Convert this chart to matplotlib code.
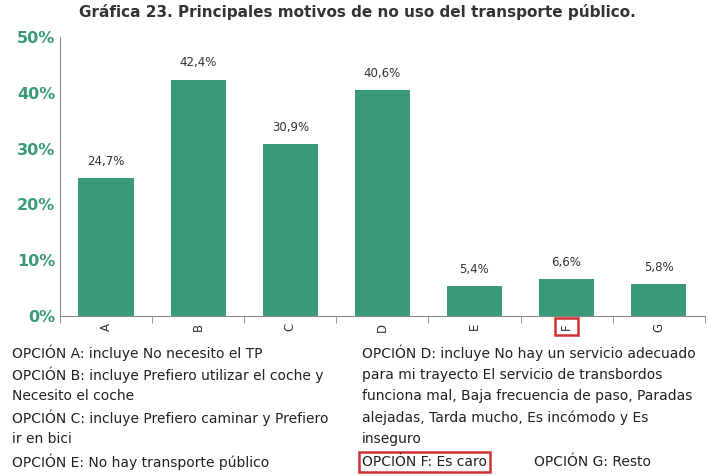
import matplotlib
matplotlib.use("Agg")
import matplotlib.pyplot as plt
import numpy as np

categories = ["A", "B", "C", "D", "E", "F", "G"]
values = [24.7, 42.4, 30.9, 40.6, 5.4, 6.6, 5.8]
value_labels = ["24,7%", "42,4%", "30,9%", "40,6%", "5,4%", "6,6%", "5,8%"]
yticks = [0, 10, 20, 30, 40, 50]

green = "#3a9a77"
fig = plt.figure(figsize=(7.14, 4.76), dpi=100)
ax = fig.add_axes([0.084, 0.336, 0.903, 0.586])
x = np.arange(len(categories))
ax.bar(x, values, width=0.6, color=green)
for xi, v, lab in zip(x, values, value_labels):
    ax.text(xi, v + 1.8, lab, ha="center", va="bottom", fontsize=8.5, color="#333333")
ax.set_xlim(-0.5, len(categories) - 0.5)
ax.set_ylim(0, 50)
ax.set_yticks(yticks)
ax.set_yticklabels([f"{t}%" for t in yticks], color=green, fontweight="bold", fontsize=11.5)
ax.tick_params(axis="y", length=0)
ax.set_xticks(x)
ax.set_xticklabels(categories, rotation=90, fontsize=8.5, color="#333333")
ax.tick_params(axis="x", length=0, pad=5)
ax.set_xticks(np.arange(-0.5, len(categories)), minor=True)
ax.tick_params(axis="x", which="minor", length=5, color="#888888")
for s in ["top", "right"]:
    ax.spines[s].set_visible(False)
ax.spines["left"].set_color("#888888")
ax.spines["bottom"].set_color("#888888")
ftl = ax.get_xticklabels()[5]
ftl.set_bbox(dict(facecolor="none", edgecolor="#d03030", linewidth=1.8, boxstyle="square,pad=0.45"))

fig.text(0.5, 0.975, "Gráfica 23. Principales motivos de no uso del transporte público.",
         ha="center", va="center", fontsize=11, fontweight="bold", color="#333333")

fs = 10
left = ["OPCIÓN A: incluye No necesito el TP",
        "OPCIÓN B: incluye Prefiero utilizar el coche y",
        "Necesito el coche",
        "OPCIÓN C: incluye Prefiero caminar y Prefiero",
        "ir en bici",
        "OPCIÓN E: No hay transporte público"]
right = ["OPCIÓN D: incluye No hay un servicio adecuado",
         "para mi trayecto El servicio de transbordos",
         "funciona mal, Baja frecuencia de paso, Paradas",
         "alejadas, Tarda mucho, Es incómodo y Es",
         "inseguro"]
ys = [353, 375, 396, 418, 439, 462]
for t, y in zip(left, ys):
    fig.text(12 / 714, 1 - y / 476, t, fontsize=fs, va="center", color="#222222")
for t, y in zip(right, ys):
    fig.text(362 / 714, 1 - y / 476, t, fontsize=fs, va="center", color="#222222")
fig.text(362 / 714, 1 - 462 / 476, "OPCIÓN F: Es caro", fontsize=fs, va="center", color="#222222",
         bbox=dict(facecolor="none", edgecolor="#d03030", linewidth=1.8, boxstyle="square,pad=0.25"))
fig.text(534 / 714, 1 - 462 / 476, "OPCIÓN G: Resto", fontsize=fs, va="center", color="#222222")

fig.savefig("out.png", dpi=100)
